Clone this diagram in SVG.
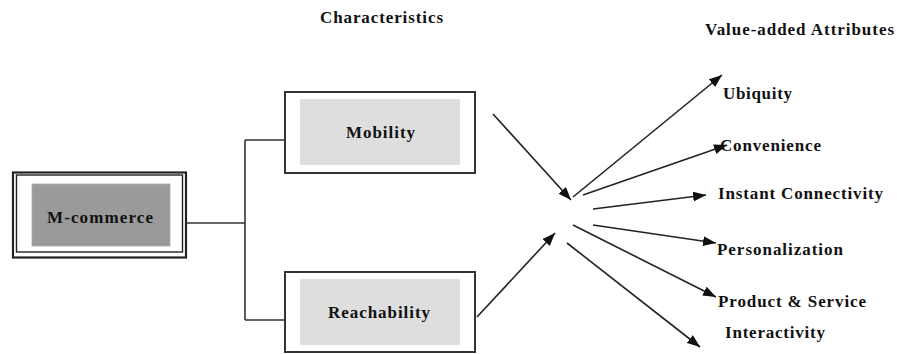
<svg xmlns="http://www.w3.org/2000/svg" width="897" height="354" viewBox="0 0 897 354">
  <defs>
    <marker id="arrow" markerUnits="userSpaceOnUse" markerWidth="14" markerHeight="10" refX="13" refY="5" orient="auto">
      <path d="M0,0 L13,5 L0,10 Z" fill="#111"/>
    </marker>
    <style>
      text { font-family: "Liberation Serif", "Times New Roman", serif; font-weight: bold; font-size: 17px; fill: #111; }
      .frame { fill: #fff; stroke: #333; stroke-width: 2; }
      .tile { fill: #dedede; }
      .wire { fill: none; stroke: #333; stroke-width: 1.6; }
      .arrow { fill: none; stroke: #222; stroke-width: 1.6; marker-end: url(#arrow); }
    </style>
  </defs>
  <rect width="897" height="354" fill="#fff"/>

  <!-- Column headings -->
  <text x="320" y="23" textLength="123" lengthAdjust="spacing">Characteristics</text>
  <text x="705" y="35" textLength="189" lengthAdjust="spacing">Value-added Attributes</text>

  <!-- Root node -->
  <g id="m-commerce">
    <rect x="13" y="172.5" width="173" height="85" fill="#fff" stroke="#222" stroke-width="2.2"/>
    <rect x="16.5" y="175" width="166" height="77" fill="none" stroke="#222" stroke-width="1.4"/>
    <rect x="32" y="184" width="138" height="62" fill="#9a9a9a" stroke="#aaa" stroke-width="0.8"/>
    <text x="47" y="223" textLength="106" lengthAdjust="spacing">M-commerce</text>
  </g>

  <!-- Characteristic nodes -->
  <g id="mobility">
    <rect class="frame" x="285" y="92" width="190" height="81"/>
    <rect class="tile" x="300" y="99" width="160" height="66"/>
    <text x="346" y="138" textLength="69" lengthAdjust="spacing">Mobility</text>
  </g>
  <g id="reachability">
    <rect class="frame" x="285" y="272" width="190" height="80"/>
    <rect class="tile" x="300" y="279" width="160" height="66"/>
    <text x="328" y="318" textLength="102" lengthAdjust="spacing">Reachability</text>
  </g>

  <!-- Attribute labels -->
  <g id="ubiquity"><text x="723" y="99" textLength="69" lengthAdjust="spacing">Ubiquity</text></g>
  <g id="convenience"><text x="720" y="151" textLength="101" lengthAdjust="spacing">Convenience</text></g>
  <g id="instant-connectivity"><text x="718" y="199" textLength="165" lengthAdjust="spacing">Instant Connectivity</text></g>
  <g id="personalization"><text x="717" y="255" textLength="126" lengthAdjust="spacing">Personalization</text></g>
  <g id="product-service"><text x="718" y="307" textLength="148" lengthAdjust="spacing">Product &amp; Service</text></g>
  <g id="interactivity"><text x="725" y="338" textLength="100" lengthAdjust="spacing">Interactivity</text></g>

  <!-- Connectors -->
  <g id="connectors">
    <path class="wire" d="M186,223 H245 M245,140 V320 M245,140 H285 M245,320 H285"/>
    <line class="arrow" x1="493" y1="114" x2="571" y2="200"/>
    <line class="arrow" x1="477" y1="317" x2="555" y2="233"/>
    <line class="arrow" x1="573" y1="197" x2="722" y2="75"/>
    <line class="arrow" x1="583" y1="195" x2="727" y2="145"/>
    <line class="arrow" x1="593" y1="209" x2="706" y2="195"/>
    <line class="arrow" x1="593" y1="225" x2="716" y2="243"/>
    <line class="arrow" x1="573" y1="225" x2="716" y2="297"/>
    <line class="arrow" x1="567" y1="243" x2="700" y2="347"/>
  </g>
</svg>
